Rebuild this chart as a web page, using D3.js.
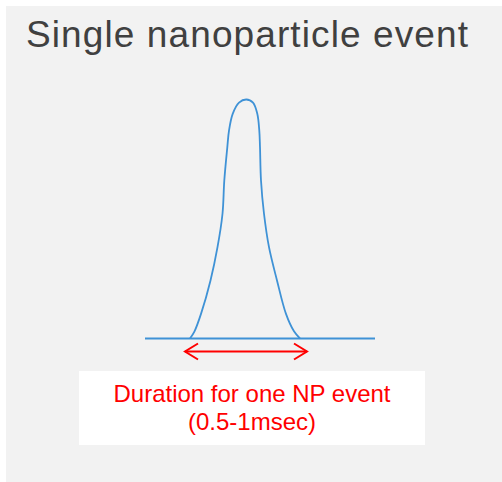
<!DOCTYPE html>
<meta charset="utf-8">
<title>Single nanoparticle event</title>
<style>
body {
  margin: 0;
  background-color: #fff;
  font-family: 'Liberation Sans', Arial, sans-serif;
}
</style>
<body>
<script src="https://d3js.org/d3.v7.min.js"></script>
<script>
// peak shape (time in ms, normalized signal)
var peakTime = [0.45, 0.495, 0.56, 0.655, 0.725, 0.775, 0.793, 0.823, 0.84, 0.877, 0.94, 1.013,
                1.08, 1.123, 1.143, 1.15, 1.16, 1.19, 1.24, 1.32, 1.41, 1.49, 1.55];
var peakSignal = [0, 0.03, 0.103, 0.243, 0.382, 0.522, 0.661, 0.8, 0.87, 0.94, 0.987, 1,
                  0.987, 0.94, 0.87, 0.8, 0.661, 0.522, 0.382, 0.243, 0.103, 0.03, 0];

// flat background signal
var baseTime = [0, 2.3];
var baseSignal = [0, 0];

// event duration marker (ms)
var spanTime = [0.4, 1.62];

var titleText = "Single nanoparticle event";
var labelLines = ["Duration for one NP event", "(0.5-1msec)"];

var width = 502,
    height = 482;

var svg = d3.select("body").append("svg")
    .attr("width", width)
    .attr("height", height);

// grey panel
svg.append("rect")
    .attr("x", 6).attr("y", 6)
    .attr("width", width - 6).attr("height", height - 6)
    .attr("fill", "#f2f2f2");

var x = d3.scaleLinear().domain([0, 2.3]).range([145, 375]);
var y = d3.scaleLinear().domain([0, 1]).range([338.5, 99.5]);

var line = d3.line()
    .x(function(d) { return x(d[0]); })
    .y(function(d) { return y(d[1]); });

// baseline
svg.append("path")
    .datum(d3.zip(baseTime, baseSignal))
    .attr("d", line)
    .attr("fill", "none")
    .attr("stroke", "#3f92d6")
    .attr("stroke-width", 1.9);

// peak
svg.append("path")
    .datum(d3.zip(peakTime, peakSignal))
    .attr("d", line.curve(d3.curveCatmullRom.alpha(0.5)))
    .attr("fill", "none")
    .attr("stroke", "#3f92d6")
    .attr("stroke-width", 1.8);

// double arrow
var ay = 351.5;
var ga = svg.append("g")
    .attr("fill", "none")
    .attr("stroke", "#ff0000")
    .attr("stroke-width", 2);
ga.append("line")
    .attr("x1", x(spanTime[0])).attr("x2", x(spanTime[1]))
    .attr("y1", ay).attr("y2", ay);
ga.append("path")
    .attr("d", "M" + (x(spanTime[0]) + 13) + "," + (ay - 8) + "L" + x(spanTime[0]) + "," + ay + "L" + (x(spanTime[0]) + 13) + "," + (ay + 8));
ga.append("path")
    .attr("d", "M" + (x(spanTime[1]) - 13) + "," + (ay - 8) + "L" + x(spanTime[1]) + "," + ay + "L" + (x(spanTime[1]) - 13) + "," + (ay + 8));

// title
svg.append("text")
    .attr("x", 26)
    .attr("y", 47)
    .attr("font-size", 37)
    .attr("fill", "#404040")
    .attr("textLength", 442)
    .attr("lengthAdjust", "spacing")
    .text(titleText);

// label box
svg.append("rect")
    .attr("x", 79).attr("y", 371)
    .attr("width", 346).attr("height", 74)
    .attr("fill", "#fff");

svg.selectAll("text.label")
    .data(labelLines)
    .enter().append("text")
    .attr("class", "label")
    .attr("x", 252)
    .attr("y", function(d, i) { return 402 + i * 28; })
    .attr("text-anchor", "middle")
    .attr("font-size", 24)
    .attr("fill", "#ff0000")
    .text(function(d) { return d; });
</script>
</body>
